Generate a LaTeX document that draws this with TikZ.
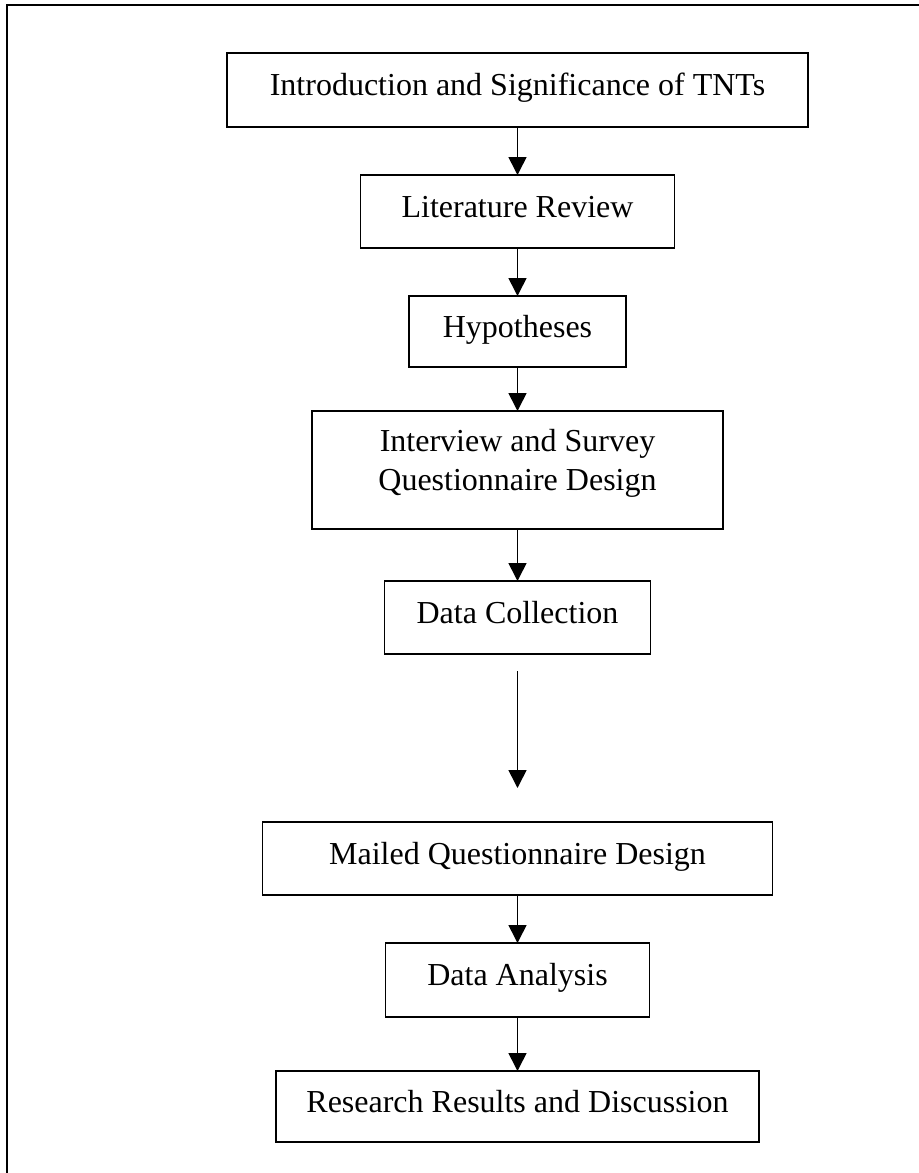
\documentclass[tikz,border=0pt]{standalone}
\usepackage{fontspec}
\setmainfont{Liberation Serif}
\usetikzlibrary{arrows.meta,positioning}

\begin{document}
\begin{tikzpicture}[
    x=1pt,y=1pt,
    node distance=24pt,
    box/.style={draw,line width=0.9pt,align=center,inner sep=0pt,outer sep=0pt,
                font=\fontsize{16}{19.5}\selectfont,
                text height=10.6pt,text depth=5pt},
    arrow/.style={-{Triangle[width=9pt,length=9pt]},line width=0.8pt},
    frame/.style={line width=0.9pt}]

  \useasboundingbox (0,0) rectangle (459.5,-586.5);
  \clip (0,0) rectangle (459.5,-586.5);
  \draw[frame] (3.5,-2.5) rectangle (480,-600);

  \node[box,minimum width=290.5pt,minimum height=37pt,anchor=north] (intro)
    at (258.75,-26.5) {Introduction and Significance of TNTs};
  \node[box,minimum width=157pt,minimum height=36.5pt,below=of intro] (lit)
    {Literature Review};
  \node[box,minimum width=108.5pt,minimum height=35.5pt,below=of lit] (hyp)
    {Hypotheses};
  \node[box,minimum width=205.5pt,minimum height=59pt,below=22pt of hyp,
        text height=30pt,text depth=10pt] (design)
    {Interview and Survey\\Questionnaire Design};
  \node[box,minimum width=133pt,minimum height=36.5pt,below=26pt of design] (collect)
    {Data Collection};
  \node[box,minimum width=255pt,minimum height=36.5pt,below=84pt of collect] (mailed)
    {Mailed Questionnaire Design};
  \node[box,minimum width=132pt,minimum height=37pt,below=of mailed] (analysis)
    {Data Analysis};
  \node[box,minimum width=241.5pt,minimum height=35.5pt,below=27pt of analysis] (results)
    {Research Results and Discussion};

  \draw[arrow] (intro) -- (lit);
  \draw[arrow] (lit) -- (hyp);
  \draw[arrow] (hyp) -- (design);
  \draw[arrow] (design) -- (collect);
  \draw[arrow,shorten <=8.5pt,shorten >=17pt] (collect) -- (mailed);
  \draw[arrow] (mailed) -- (analysis);
  \draw[arrow] (analysis) -- (results);
\end{tikzpicture}
\end{document}
